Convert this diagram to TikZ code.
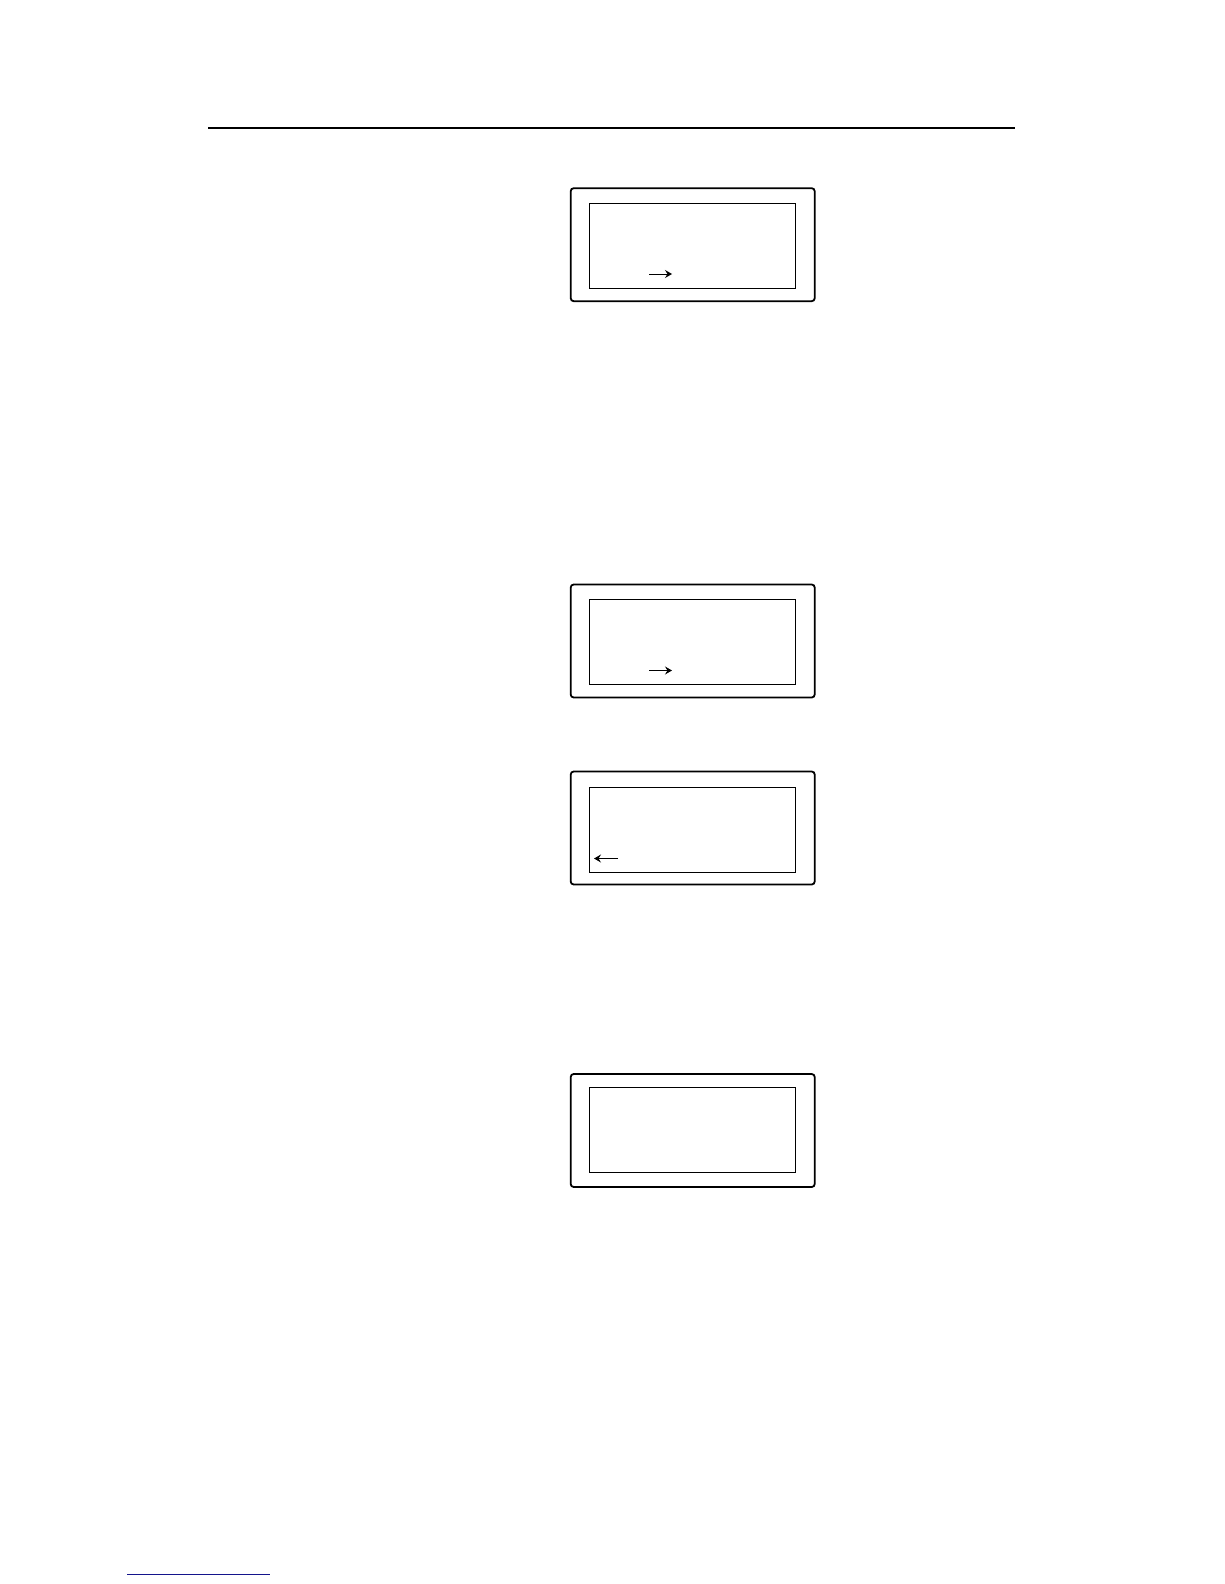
\documentclass[tikz,border=0pt]{standalone}
\usetikzlibrary{arrows.meta}
\begin{document}
\begin{tikzpicture}[x=1pt,y=-1pt,
  outerbox/.style={draw,line width=1.8pt,rounded corners=3pt,minimum width=244pt,minimum height=113pt,inner sep=0pt},
  innerbox/.style={draw,line width=0.9pt,minimum width=206pt,minimum height=85pt,inner sep=0pt},
  rule/.style={line width=1.2pt},
  cursor/.style={line width=1pt,-{Stealth[length=7pt,width=8pt,inset=2.5pt]}}]
\useasboundingbox (0,0) rectangle (1224,1584);
% header rule
\coordinate (hl) at (208,128);
\coordinate (hr) at (1015,128);
\draw[rule] (hl) -- (hr);
% box 1
\node[outerbox] (o1) at (692.7,244.7) {};
\node[innerbox] (i1) at (692.5,245.5) {};
\coordinate (a1s) at (649,274);
\coordinate (a1e) at (672,274);
\draw[cursor] (a1s) -- (a1e);
% box 2
\node[outerbox] (o2) at (692.7,641) {};
\node[innerbox] (i2) at (692.5,641.5) {};
\coordinate (a2s) at (649,670.5);
\coordinate (a2e) at (672,670.5);
\draw[cursor] (a2s) -- (a2e);
% box 3
\node[outerbox] (o3) at (692.7,828) {};
\node[innerbox] (i3) at (692.5,830) {};
\coordinate (a3s) at (618,858.5);
\coordinate (a3e) at (594,858.5);
\draw[cursor] (a3s) -- (a3e);
% box 4
\node[outerbox] (o4) at (692.7,1130.5) {};
\node[innerbox] (i4) at (692.5,1130) {};
% footer link line
\coordinate (fl) at (127,1574.5);
\coordinate (fr) at (270,1574.5);
\draw[line width=1pt,color={rgb,255:red,20;green,20;blue,140}] (fl) -- (fr);
\end{tikzpicture}
\end{document}
